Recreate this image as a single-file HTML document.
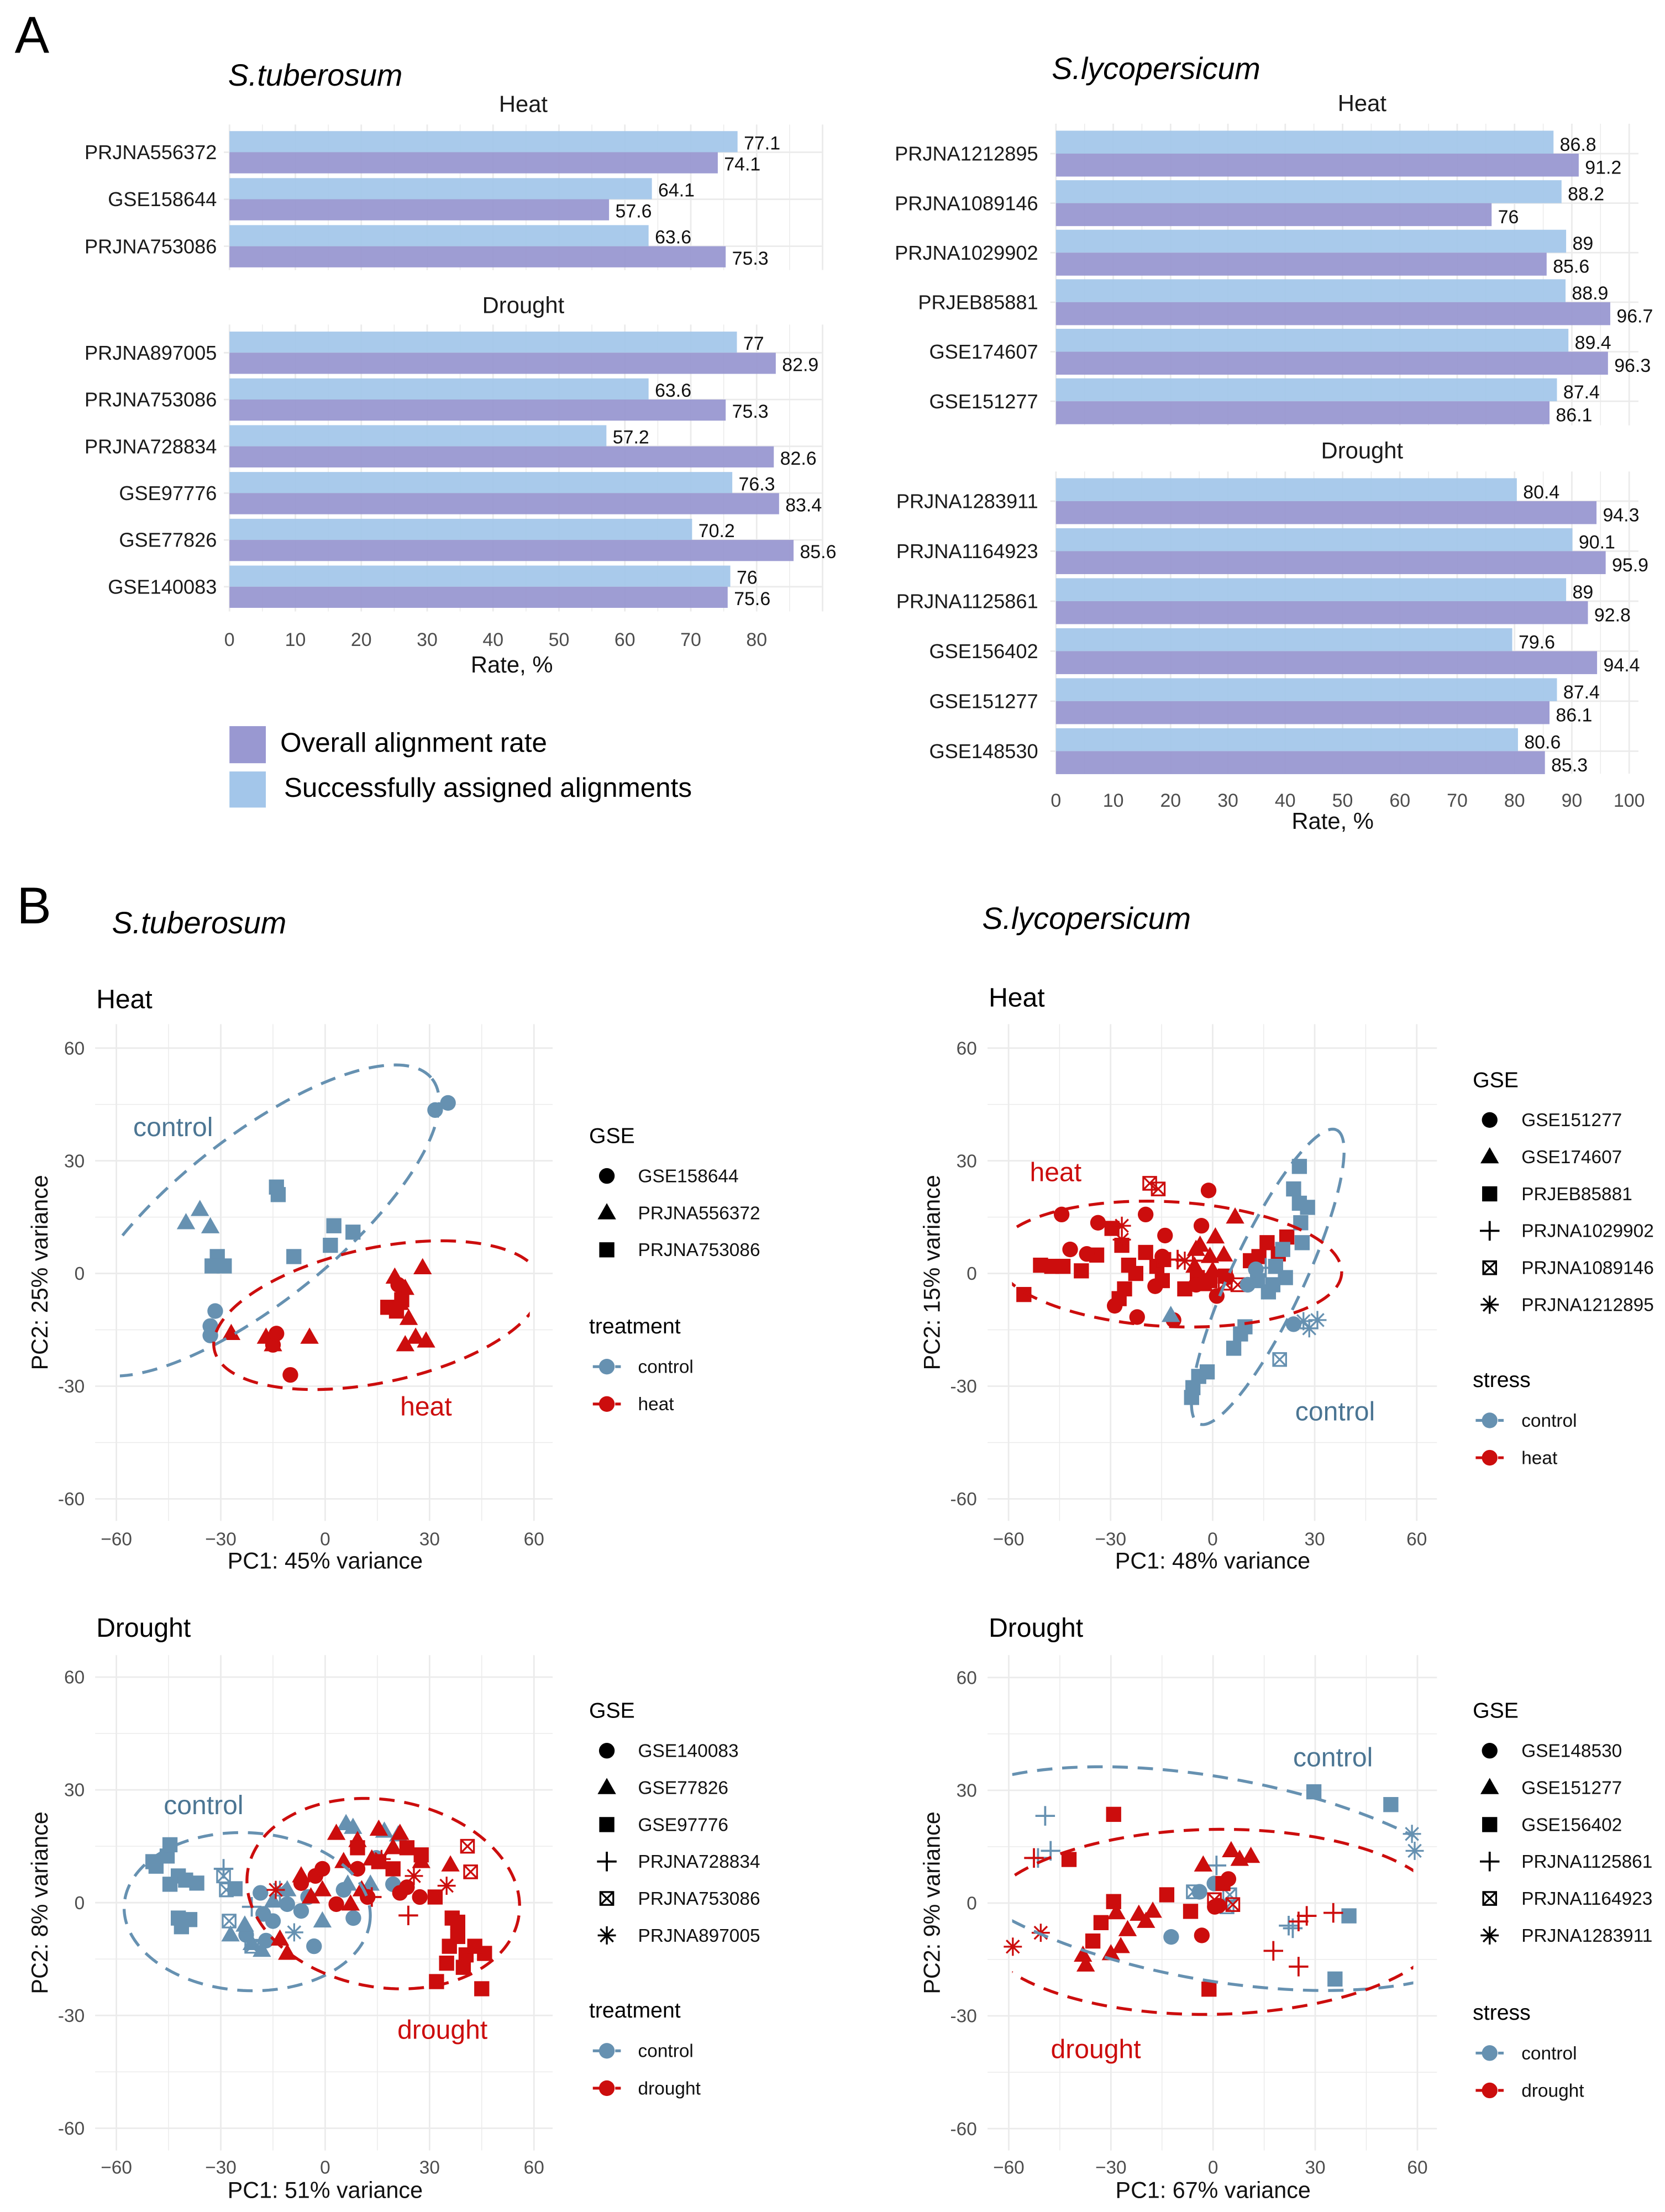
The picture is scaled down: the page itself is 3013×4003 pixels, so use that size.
<!DOCTYPE html>
<html><head><meta charset="utf-8"><title>Alignment rates and PCA</title>
<style>
html,body{margin:0;padding:0;background:#fff;}
svg{display:block;font-family:"Liberation Sans",Arial,sans-serif;}
</style></head>
<body>
<svg id="fig" xmlns="http://www.w3.org/2000/svg" width="3013" height="4003" viewBox="0 0 1190 1581">
<rect x="0" y="0" width="1190" height="1581" fill="#ffffff"/>
</svg>
<script>
// ---------------- Panel A data ----------------
const stHeatLabels = ['PRJNA556372','GSE158644','PRJNA753086'];
const stHeatAssigned = [77.1, 64.1, 63.6];
const stHeatOverall = [74.1, 57.6, 75.3];
const stDroughtLabels = ['PRJNA897005','PRJNA753086','PRJNA728834','GSE97776','GSE77826','GSE140083'];
const stDroughtAssigned = [77, 63.6, 57.2, 76.3, 70.2, 76];
const stDroughtOverall = [82.9, 75.3, 82.6, 83.4, 85.6, 75.6];
const slHeatLabels = ['PRJNA1212895','PRJNA1089146','PRJNA1029902','PRJEB85881','GSE174607','GSE151277'];
const slHeatAssigned = [86.8, 88.2, 89, 88.9, 89.4, 87.4];
const slHeatOverall = [91.2, 76, 85.6, 96.7, 96.3, 86.1];
const slDroughtLabels = ['PRJNA1283911','PRJNA1164923','PRJNA1125861','GSE156402','GSE151277','GSE148530'];
const slDroughtAssigned = [80.4, 90.1, 89, 79.6, 87.4, 80.6];
const slDroughtOverall = [94.3, 95.9, 92.8, 94.4, 86.1, 85.3];
const stRateTicks = [0,10,20,30,40,50,60,70,80];
const slRateTicks = [0,10,20,30,40,50,60,70,80,90,100];

// ---------------- Panel B data: [PC1, PC2, shapeIndex, group(0=control,1=stress)] ----------------
const pcTicks = [-60,-30,0,30,60];
const pcTickLabelsX = ['\u221260','\u221230','0','30','60'];
const pcTickLabelsY = ['-60','-30','0','30','60'];
const tlShapes = ['GSE158644','PRJNA556372','PRJNA753086'];
const tlPoints = [
[35.3,45.4,0,0],[31.6,43.5,0,0],[-31.6,-10,0,0],[-33,-14,0,0],[-33,-16.5,0,0],
[-40,13.5,1,0],[-36,17,1,0],[-33,12.4,1,0],
[-14,23,2,0],[-13.5,21,2,0],[-31,4.5,2,0],[-32.5,2,2,0],[-29,2,2,0],[-9,4.5,2,0],[2.5,12.7,2,0],[8,11,2,0],[1.5,7.5,2,0],
[-27,-16,1,1],[-17,-17,1,1],[-15,-19,1,1],[-4.5,-17,1,1],[20,-1,1,1],[23,-4,1,1],[28,1.5,1,1],[21.5,-8,1,1],[24,-12,1,1],[26,-17,1,1],[23,-19,1,1],[29,-18,1,1],
[-10,-27,0,1],[-15,-19,0,1],[-14,-16,0,1],[21,-3,0,1],
[18,-9,2,1],[20.5,-10,2,1],[22,-7,2,1]
];
const trShapes = ['GSE151277','GSE174607','PRJEB85881','PRJNA1029902','PRJNA1089146','PRJNA1212895'];
const trPoints = [
[-50.6,2.2,2,1],[-47.3,1.9,2,1],[-44,1.9,2,1],[-55.5,-5.6,2,1],[-38.6,0.7,2,1],[-26.7,7.5,2,1],[-24.7,2.2,2,1],[-22.6,0,2,1],[-19.7,5.6,2,1],[-16.4,1.9,2,1],[-14.8,-1.9,2,1],[-25.9,-4.1,2,1],[-27.5,-6.7,2,1],[-8.2,-4.1,2,1],[-4.5,-1.1,2,1],[-0.8,-1.9,2,1],[3.7,-0.7,2,1],[11.1,3.4,2,1],[13.6,4.5,2,1],[16,8.2,2,1],[19.3,5.2,2,1],[21.8,9.7,2,1],[-34.1,4.9,2,1],[-29.6,12,2,1],[-14.4,3.7,2,1],
[-44.4,15.7,0,1],[-33.7,13.5,0,1],[-19.7,15.7,0,1],[-14,10.1,0,1],[-3.3,12.7,0,1],[-1.2,22.1,0,1],[-14.8,4.5,0,1],[-4.9,-3,0,1],[1.2,-6,0,1],[4.1,-1.1,0,1],[-28.8,-8.6,0,1],[-22.2,-11.6,0,1],[-11.5,-12.4,0,1],[-41.9,6.4,0,1],[-37,5.2,0,1],[-16.9,-3.4,0,1],
[-3.7,7.5,1,1],[-0.8,4.5,1,1],[-5.3,1.9,1,1],[0,0.7,1,1],[-2.5,-3,1,1],[6.6,15,1,1],[3.3,4.9,1,1],[0.8,9.7,1,1],[-4.9,6.4,1,1],[-12.3,-11.2,1,0],
[-18.5,24,4,1],[-16,22.5,4,1],[3.7,-2.6,4,1],[7.4,-3,4,1],
[-26.7,12.7,5,1],[-26.7,9,5,1],[-8.2,3.4,5,1],
[-10.3,3.7,3,1],[-5.8,3.4,3,1],
[25.5,28.5,2,0],[23.8,22.5,2,0],[25.5,18.7,2,0],[27.9,17.6,2,0],[25.9,13.5,2,0],[26.3,8.2,2,0],[20.6,6.4,2,0],[18.5,1.9,2,0],[21.4,-1.1,2,0],[16.4,-4.9,2,0],[13.2,-1.9,2,0],[8.2,-16.1,2,0],[6.2,-19.9,2,0],[-4.1,-27.4,2,0],[-5.8,-30.4,2,0],[-6.2,-33,2,0],[-1.6,-26.2,2,0],[9.5,-14.2,2,0],[17.7,-3,2,0],
[23.8,-13.5,0,0],[10.3,-3,0,0],[12.7,1.1,0,0],
[19.7,-22.9,4,0],
[26.7,-12.7,5,0],[30.8,-12.4,5,0],[28.4,-14.6,5,0],
[15.6,1.5,3,0]
];
const blShapes = ['GSE140083','GSE77826','GSE97776','PRJNA728834','PRJNA753086','PRJNA897005'];
const blPoints = [
[-48.6,9.7,2,0],[-45.4,12.4,2,0],[-44.6,15.4,2,0],[-42.2,7.1,2,0],[-40.1,6,2,0],[-36.9,5.2,2,0],[-38.9,-4.5,2,0],[-41.3,-6.4,2,0],[-42.2,-4.1,2,0],[-25.9,3.7,2,0],[-44.6,4.9,2,0],[-49.5,10.9,2,0],
[-18.6,2.6,0,0],[-17.8,-3,0,0],[-15,-4.9,0,0],[-10.9,-0.4,0,0],[-6.9,-2.2,0,0],[-3.2,-11.6,0,0],[5.3,3.4,0,0],[-22.7,-8.6,0,0],[-17,-10.1,0,0],[14.7,11.9,0,0],[19.5,4.9,0,0],[8.1,-4.1,0,0],[-4.9,1.5,0,0],
[-27.2,-8.6,1,0],[-23.1,-6,1,0],[-21.1,-10.9,1,0],[-15,0.4,1,0],[-10.9,3.4,1,0],[-0.8,-4.9,1,0],[6.5,4.9,1,0],[13,4.9,1,0],[-18.2,-12.7,1,0],[6,21,1,0],[8,20,1,0],[17,19,1,0],[21,18,1,0],
[-29.2,7.1,4,0],[-28.4,3.4,4,0],[-27.6,-4.9,4,0],[-21.1,-11.6,4,0],
[-21.1,-1.1,3,0],[-13,1.9,3,0],[-29.2,9,3,0],
[-13,3.4,5,0],[-8.9,-7.9,5,0],
[3.2,18.4,1,1],[9.3,16.5,1,1],[15.4,19.5,1,1],[5.3,10.9,1,1],[13.4,11.6,1,1],[19.5,14.6,1,1],[27.6,10.9,1,1],[21.5,18.4,1,1],[-6.9,7.1,1,1],[-10.9,-13.5,1,1],[-13,-9.7,1,1],[7.3,-0.4,1,1],[-0.8,3.4,1,1],[-4.1,1.5,1,1],[10.5,3.4,1,1],[36,10,1,1],
[9.3,14.6,2,1],[15.4,10.9,2,1],[23.5,14.6,2,1],[19.5,9,2,1],[27.6,12.7,2,1],[31.6,1.5,2,1],[35.7,-11.6,2,1],[38.1,-9,2,1],[40.5,-13.9,2,1],[34.9,-16.1,2,1],[32,-21,2,1],[39.7,-17.2,2,1],[36.5,-4.1,2,1],[45.8,-13.5,2,1],[43,-11.6,2,1],[45,-22.9,2,1],[38.1,-5.2,2,1],
[-2.8,7.1,0,1],[-0.8,9,0,1],[3.2,-0.4,0,1],[12.2,1.5,0,1],[23.5,4.1,0,1],[27.2,1.5,0,1],[21.5,2.6,0,1],[-6.9,5.2,0,1],[9.3,9,0,1],
[40.9,15,4,1],[41.8,8.2,4,1],
[16.2,11.6,5,1],[34.9,4.5,5,1],[-14.2,3.4,5,1],[25.5,7.1,5,1],
[23.9,-3.4,3,1],[13.4,1.5,3,1]
];
const brShapes = ['GSE148530','GSE151277','GSE156402','PRJNA1125861','PRJNA1164923','PRJNA1283911'];
const brPoints = [
[29.6,29.6,2,0],[52.2,26.2,2,0],[39.9,-3.4,2,0],[35.8,-20.2,2,0],
[-12.3,-9,0,0],[0.4,5.2,0,0],[-4,3,0,0],
[-49.3,23.2,3,0],[-51.4,12,3,0],[-47.7,13.9,3,0],[22.2,-6,3,0],[23.4,-6.7,3,0],[1,10,3,0],
[-5.8,3,4,0],[4.9,2.2,4,0],[4.1,-1,4,0],
[58.4,18.4,5,0],[59.2,13.9,5,0],
[-29.2,23.6,2,1],[-42.3,11.6,2,1],[-29.2,0.4,2,1],[-32.9,-5.2,2,1],[-35.3,-10.1,2,1],[-13.6,2.2,2,1],[-1.2,-22.9,2,1],[-6.6,-2.2,2,1],[2.9,5.2,2,1],
[-3.3,-8.6,0,1],[1.6,-0.7,0,1],[4.5,6.4,0,1],[0.5,-1,0,1],
[-2.9,10.1,1,1],[5.3,13.9,1,1],[7.8,11.6,1,1],[11.1,12.4,1,1],[-38.2,-13.9,1,1],[-28.4,-2.6,1,1],[-21.8,-3,1,1],[-19.7,-4.9,1,1],[-17.7,-2.2,1,1],[-25.1,-7.1,1,1],[-27.1,-11.6,1,1],[-30,-13.5,1,1],[-37.4,-16.5,1,1],
[-52.6,12,3,1],[25.1,-4.9,3,1],[27.5,-3.4,3,1],[17.7,-12.7,3,1],[25.1,-16.9,3,1],[35.3,-2.6,3,1],
[0.4,0.9,4,1],[5.8,-0.4,4,1],
[-58.8,-11.6,5,1],[-50.6,-7.9,5,1]
];
// ellipses: [centerPC1, centerPC2, semiAxisA (PC1 units), semiAxisB (PC2 units), screen angle deg]
const tlEllControl = [-20.2, 14.1, 65.2, 21.8, -38.7];
const tlEllStress = [15.1, -11.1, 48, 17.9, -12];
const trEllControl = [16.2, -0.9, 47.7, 9.7, -64.9];
const trEllStress = [-13, 2.5, 51, 16.6, 3];
const blEllControl = [-22.4, -2.4, 35.4, 21, 3];
const blEllStress = [16.7, 2.4, 39.5, 24.9, 10];
const brEllControl = [0, 6.5, 85, 27, 10];
const brEllStress = [0, -5, 69, 24.6, -1];

// ---------------- drawing ----------------
const NS = 'http://www.w3.org/2000/svg';
const svg = document.getElementById('fig');
const BLUE = '#6691b1', RED = '#cc0d0d', BLUE_T = '#4b7593', LIGHT = '#a3c6ea', PURPLE = '#9998d1';
function mk(tag, attrs, parent) {
  const e = document.createElementNS(NS, tag);
  for (const k in attrs) e.setAttribute(k, attrs[k]);
  (parent || svg).appendChild(e);
  return e;
}
function tx(str, attrs, parent) {
  const e = mk('text', attrs, parent);
  e.textContent = str;
  return e;
}

function barPanel(labels, assigned, overall, c, ticks) {
  const g = mk('g', {});
  
  
  const sxf = v => c.x0 + v * c.sx;
  for (let v = 0; sxf(v) <= c.gRight; v += 5) {
    const l = mk('line', {x1: sxf(v), x2: sxf(v), y1: c.gTop, y2: c.gBot, stroke: '#ebebeb', 'stroke-width': v % 10 === 0 ? 1.1 : 0.6}, g);
    
    
  }
  labels.forEach((lab, i) => {
    const yT = c.top + i * c.step;
    const yM = yT + c.h;
    const hl = mk('line', {x1: c.x0 - 4, x2: c.gRight, y1: yM, y2: yM, stroke: '#ebebeb', 'stroke-width': 1.1}, g);
    
    
    const b1 = mk('rect', {x: c.x0, y: yT, width: assigned[i] * c.sx, height: c.h, fill: LIGHT, 'fill-opacity': 0.93}, g);
    
    
    const b2 = mk('rect', {x: c.x0, y: yM, width: overall[i] * c.sx, height: c.h, fill: PURPLE, 'fill-opacity': 0.95}, g);
    
    
    const cl = tx(lab, {x: c.labelX, y: yM + 5, 'text-anchor': 'end', 'font-size': 14.3, fill: '#1a1a1a'}, g);
    
    
    const v1 = tx(String(assigned[i]), {x: sxf(assigned[i]) + 4.5, y: yT + c.h - 2, 'font-size': 13.4, fill: '#111'}, g);
    
    
    const v2 = tx(String(overall[i]), {x: sxf(overall[i]) + 4.5, y: yM + c.h - 2, 'font-size': 13.4, fill: '#111'}, g);
    
    
  });
  const t = tx(c.title, {x: c.titleX, y: c.titleY, 'text-anchor': 'middle', 'font-size': 16.5, fill: '#1a1a1a'}, g);
  
  
  if (ticks) {
    ticks.forEach(v => {
      const tl = tx(String(v), {x: sxf(v), y: c.tickY, 'text-anchor': 'middle', 'font-size': 13.4, fill: '#4d4d4d'}, g);
      
      
    });
    const at = tx('Rate, %', {x: c.axisTitleX, y: c.axisTitleY, 'text-anchor': 'middle', 'font-size': 16.5, fill: '#111'}, g);
    
    
  }
}

barPanel(stHeatLabels, stHeatAssigned, stHeatOverall, {name:'st-heat-bars', x0:164, sx:4.71, top:93.7, step:33.6, h:15.1, gTop:89, gBot:193, gRight:588, labelX:155, title:'Heat', titleX:374, titleY:80}, null);
barPanel(stDroughtLabels, stDroughtAssigned, stDroughtOverall, {name:'st-drought-bars', x0:164, sx:4.71, top:237, step:33.45, h:15.1, gTop:232, gBot:437, gRight:588, labelX:155, title:'Drought', titleX:374, titleY:223.7, tickY:461.8, axisTitleX:365.8, axisTitleY:480.7}, stRateTicks);
barPanel(slHeatLabels, slHeatAssigned, slHeatOverall, {name:'sl-heat-bars', x0:754.7, sx:4.097, top:93.4, step:35.4, h:16.4, gTop:88.4, gBot:304, gRight:1171, labelX:742, title:'Heat', titleX:973.5, titleY:79.3}, null);
barPanel(slDroughtLabels, slDroughtAssigned, slDroughtOverall, {name:'sl-drought-bars', x0:754.7, sx:4.097, top:341.8, step:35.74, h:16.4, gTop:337, gBot:553, gRight:1171, labelX:742, title:'Drought', titleX:973.5, titleY:327.7, tickY:576.6, axisTitleX:952.5, axisTitleY:592.5}, slRateTicks);

// Headers
function header(str, x, y, size, italic, name) {
  const e = tx(str, {x: x, y: y, 'font-size': size, fill: '#000', 'font-style': italic ? 'italic' : 'normal'});
  
  
}
header('A', 10.5, 37.8, 37, false, 'panel-label-a');
header('S.tuberosum', 163, 61.2, 22, true, 'species-title-tuberosum-a');
header('S.lycopersicum', 751.7, 56.4, 22, true, 'species-title-lycopersicum-a');
header('B', 12, 660, 37, false, 'panel-label-b');
header('S.tuberosum', 80, 667, 22, true, 'species-title-tuberosum-b');
header('S.lycopersicum', 702, 664, 22, true, 'species-title-lycopersicum-b');

// Panel A legend
const lg1 = mk('rect', {x:164, y:519, width:26, height:26.5, fill:PURPLE});


const lg2 = mk('rect', {x:164, y:551.4, width:26, height:25.8, fill:LIGHT});


header('Overall alignment rate', 200.3, 537.4, 19.5, false, 'legend-label-overall');
header('Successfully assigned alignments', 203, 569.5, 19.5, false, 'legend-label-assigned');

// ---------------- PCA ----------------
function shape(type, x, y, color, parent) {
  let e;
  if (type === 0) {
    e = mk('circle', {cx:x, cy:y, r:5.6, fill:color}, parent);
  } else if (type === 1) {
    e = mk('polygon', {points: `${x},${y-7} ${x+6.6},${y+4.6} ${x-6.6},${y+4.6}`, fill:color}, parent);
  } else if (type === 2) {
    e = mk('rect', {x:x-5.4, y:y-5.4, width:10.8, height:10.8, fill:color}, parent);
  } else if (type === 3) {
    e = mk('path', {d:`M${x-7} ${y}H${x+7}M${x} ${y-7}V${y+7}`, stroke:color, 'stroke-width':1.5, fill:'none'}, parent);
  } else if (type === 4) {
    e = mk('path', {d:`M${x-4.6} ${y-4.6}h9.2v9.2h-9.2zM${x-4.6} ${y-4.6}l9.2 9.2M${x+4.6} ${y-4.6}l-9.2 9.2`, stroke:color, 'stroke-width':1.3, fill:'none'}, parent);
  } else {
    e = mk('path', {d:`M${x-6.5} ${y}H${x+6.5}M${x} ${y-6.5}V${y+6.5}M${x-4.6} ${y-4.6}l9.2 9.2M${x+4.6} ${y-4.6}l-9.2 9.2`, stroke:color, 'stroke-width':1.3, fill:'none'}, parent);
  }
  return e;
}

let clipId = 0;
function pca(c, points, shapeNames, ellControl, ellStress) {
  const g = mk('g', {});
  
  
  const X = v => c.x0 + v * c.sx;
  const Y = v => c.y0 - v * c.sy;
  for (let v = -60; v <= 60; v += 15) {
    const major = v % 30 === 0;
    const gx = mk('line', {x1:X(v), x2:X(v), y1:c.gy1, y2:c.gy2, stroke:'#ebebeb', 'stroke-width': major ? 1.1 : 0.6}, g);
    
    
    const gy = mk('line', {x1:c.gx1, x2:c.gx2, y1:Y(v), y2:Y(v), stroke:'#ebebeb', 'stroke-width': major ? 1.1 : 0.6}, g);
    
    
  }
  pcTicks.forEach((v, i) => {
    const xt = tx(pcTickLabelsX[i], {x:X(v), y:c.tickY, 'text-anchor':'middle', 'font-size':13.2, fill:'#4d4d4d'}, g);
    
    
    const yt = tx(pcTickLabelsY[i], {x:c.ytickX, y:Y(v) + 4.6, 'text-anchor':'end', 'font-size':13.2, fill:'#4d4d4d'}, g);
    
    
  });
  const xtl = tx(c.xTitle, {x:(X(-60) + X(60)) / 2, y:c.xTitleY, 'text-anchor':'middle', 'font-size':16.3, fill:'#111'}, g);
  
  
  const yc = (c.gy1 + c.gy2) / 2;
  const ytl = tx(c.yTitle, {x:c.yTitleX, y:yc, 'text-anchor':'middle', 'font-size':16.3, fill:'#111', transform:`rotate(-90 ${c.yTitleX} ${yc})`, dy:'0.35em'}, g);
  
  
  const ttl = tx(c.title, {x:c.titleX, y:c.titleY, 'font-size':19, fill:'#000'}, g);
  
  
  points.forEach(p => {
    const s = shape(p[2], X(p[0]), Y(p[1]), p[3] === 0 ? BLUE : RED, g);
    
    
  });
  clipId++;
  const cp = mk('clipPath', {id:'clip' + clipId}, g);
  mk('rect', {x:X(-59), y:c.gy1 - 20, width:X(58.8) - X(-59), height:c.gy2 - c.gy1 + 40}, cp);
  [[ellControl, BLUE, 'control'], [ellStress, RED, 'stress']].forEach(([e, col, nm]) => {
    const cx = X(e[0]), cy = Y(e[1]), A = e[2] * c.sx, B = e[3] * c.sy, th = e[4] * Math.PI / 180;
    let d = '';
    for (let k = 0; k <= 180; k++) {
      const t = k / 180 * 2 * Math.PI;
      const u = A * Math.cos(t), v = B * Math.sin(t);
      const px = cx + u * Math.cos(th) - v * Math.sin(th);
      const py = cy + u * Math.sin(th) + v * Math.cos(th);
      d += (k ? 'L' : 'M') + px.toFixed(2) + ' ' + py.toFixed(2);
    }
    const el = mk('path', {d:d, fill:'none', stroke:col, 'stroke-width':2.1, 'stroke-dasharray':'11 7', 'clip-path':`url(#clip${clipId})`}, g);
    
    
  });
  const l1 = tx('control', {x:c.ctrlLab[0], y:c.ctrlLab[1], 'font-size':19, fill:BLUE_T}, g);
  
  
  const l2 = tx(c.stressName, {x:c.stressLab[0], y:c.stressLab[1], 'font-size':19, fill:RED}, g);
  
  
  const lt = tx('GSE', {x:c.legX, y:c.legTop, 'font-size':15.5, fill:'#000'}, g);
  
  
  shapeNames.forEach((nmS, i) => {
    const yy = c.legTop + 28 + i * 26.4;
    const s = shape(i, c.legShapeX, yy - 4.5, '#000', g);
    
    
    const t = tx(nmS, {x:c.legTextX, y:yy, 'font-size':13.2, fill:'#111'}, g);
    
    
  });
  const lt2 = tx(c.groupTitle, {x:c.legX, y:c.legTop2, 'font-size':15.5, fill:'#000'}, g);
  
  
  [['control', BLUE], [c.stressName, RED]].forEach(([nmG, col], i) => {
    const yy = c.legTop2 + 28.3 + i * 26.7;
    const ln = mk('line', {x1:c.legShapeX - 10, x2:c.legShapeX + 10, y1:yy - 4.5, y2:yy - 4.5, stroke:col, 'stroke-width':2, 'stroke-dasharray':'5 3'}, g);
    
    
    const ci = mk('circle', {cx:c.legShapeX, cy:yy - 4.5, r:5.6, fill:col}, g);
    
    
    const t = tx(nmG, {x:c.legTextX, y:yy, 'font-size':13.2, fill:'#111'}, g);
    
    
  });
}

pca({name:'pca-tuberosum-heat', x0:232.4, sx:2.487, y0:910.2, sy:2.685, gx1:68, gx2:395, gy1:732, gy2:1087,
  tickY:1104.4, ytickX:60.5, xTitle:'PC1: 45% variance', xTitleY:1121, yTitle:'PC2: 25% variance', yTitleX:28.3,
  title:'Heat', titleX:68.8, titleY:720.6, ctrlLab:[95.2, 812], stressLab:[286, 1011.7], stressName:'heat',
  legX:421, legShapeX:433.7, legTextX:456, legTop:817, legTop2:953, groupTitle:'treatment'},
  tlPoints, tlShapes, tlEllControl, tlEllStress);
pca({name:'pca-lycopersicum-heat', x0:866.7, sx:2.431, y0:910.2, sy:2.685, gx1:705.8, gx2:1027, gy1:732, gy2:1087,
  tickY:1104.4, ytickX:698.2, xTitle:'PC1: 48% variance', xTitleY:1121, yTitle:'PC2: 15% variance', yTitleX:666,
  title:'Heat', titleX:706.6, titleY:719.5, ctrlLab:[925.7, 1015.2], stressLab:[736, 844.3], stressName:'heat',
  legX:1052.6, legShapeX:1064.7, legTextX:1087.4, legTop:777, legTop2:991.4, groupTitle:'stress'},
  trPoints, trShapes, trEllControl, trEllStress);
pca({name:'pca-tuberosum-drought', x0:232.4, sx:2.487, y0:1359.9, sy:2.687, gx1:68, gx2:395, gy1:1183, gy2:1537,
  tickY:1553.6, ytickX:60.5, xTitle:'PC1: 51% variance', xTitleY:1571, yTitle:'PC2: 8% variance', yTitleX:28.3,
  title:'Drought', titleX:68.8, titleY:1169.8, ctrlLab:[117, 1296.6], stressLab:[284, 1457.2], stressName:'drought',
  legX:421, legShapeX:433.7, legTextX:456, legTop:1227.8, legTop2:1442, groupTitle:'treatment'},
  blPoints, blShapes, blEllControl, blEllStress);
pca({name:'pca-lycopersicum-drought', x0:867, sx:2.434, y0:1360.2, sy:2.687, gx1:705.8, gx2:1027, gy1:1183, gy2:1537,
  tickY:1553.6, ytickX:698.2, xTitle:'PC1: 67% variance', xTitleY:1571, yTitle:'PC2: 9% variance', yTitleX:666,
  title:'Drought', titleX:706.6, titleY:1169.8, ctrlLab:[924.2, 1262.5], stressLab:[751, 1471.1], stressName:'drought',
  legX:1052.6, legShapeX:1064.7, legTextX:1087.4, legTop:1227.8, legTop2:1443.6, groupTitle:'stress'},
  brPoints, brShapes, brEllControl, brEllStress);
</script>
</body></html>
